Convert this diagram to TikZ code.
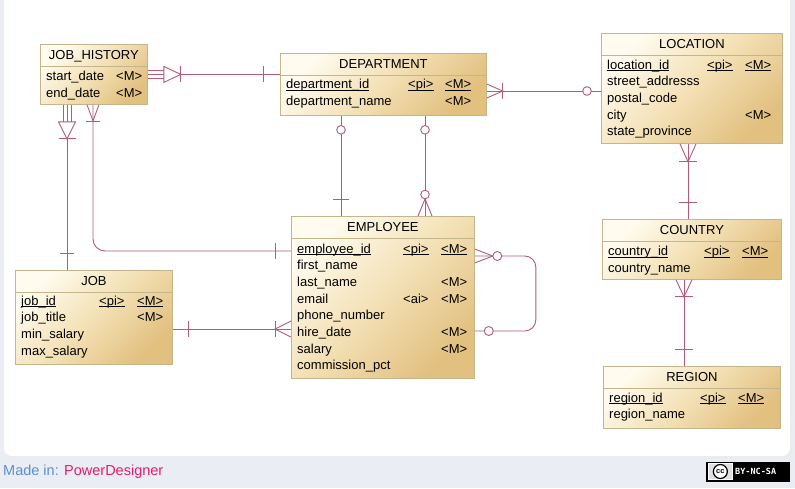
\documentclass[tikz,border=0pt]{standalone}
\usepackage{fontspec}
\setmainfont{Liberation Sans}
\newfontfamily\monof{DejaVu Sans Mono}
\usetikzlibrary{calc}
\definecolor{relc}{RGB}{178,92,122}
\definecolor{entborder}{RGB}{196,182,140}
\definecolor{bgout}{RGB}{234,237,243}
\definecolor{shUL}{RGB}{255,251,238}
\definecolor{shMID}{RGB}{243,224,180}
\definecolor{shLR}{RGB}{226,192,128}
\definecolor{madein}{RGB}{92,142,212}
\definecolor{pdpink}{RGB}{226,30,112}
\newcommand\ulx[1]{\setbox0\hbox{#1}\rlap{\rule[-2.3pt]{\wd0}{0.9pt}}\box0}
\newcommand\ent[6]{%
  \node[entity, minimum width=#4pt, minimum height=#5pt] (#1) at (#2,#3) {};
  \node[ttl] (#1-title) at ($(#1.north)+(0,15.3)$) {#6};
  \draw[sepline] ($(#1.north west)+(0,22)$) -- ($(#1.north east)+(0,22)$);
}
\newcommand\arow[8]{%
  \node[attr] (#1-n) at (#3,#2) {#4};
  \node[attr] (#1-p) at (#5,#2) {#6};
  \node[attr] (#1-m) at (#7,#2) {#8};
}
\begin{document}
\begin{tikzpicture}[x=1pt,y=-1pt,
  entity/.style={draw=entborder, line width=0.8pt, anchor=north west, inner sep=0pt, rectangle,
     top color=shUL, bottom color=shLR, middle color=shMID, shading angle=45},
  ttl/.style={anchor=base, inner sep=0pt, font=\fontsize{13}{15}\selectfont},
  attr/.style={anchor=base west, inner sep=0pt, font=\fontsize{13}{15}\selectfont},
  sepline/.style={draw=entborder, line width=0.8pt},
  rl/.style={draw=relc, line width=0.9pt},
  oc/.style={draw=relc, line width=0.9pt, fill=white},
]
\useasboundingbox (0,0) rectangle (795,488);
\fill[bgout] (0,0) rectangle (795,488);
\fill[black!8, rounded corners=8pt] (5,-10) rectangle (791.5,457.5);
\fill[white, rounded corners=8pt] (4,-10) rectangle (790,456);

% ---------- entities ----------
\ent{jh}{40}{44}{107}{60}{JOB\_HISTORY}
\arow{jh1}{80.5}{46}{start\_date}{100}{}{116}{<M>}
\arow{jh2}{97.2}{46}{end\_date}{100}{}{116}{<M>}

\ent{dep}{280}{53}{206}{62}{DEPARTMENT}
\arow{dep1}{88.7}{286}{\ulx{department\_id}}{408}{\ulx{<pi>}}{445}{\ulx{<M>}}
\arow{dep2}{105.7}{286}{department\_name}{408}{}{445}{<M>}

\ent{loc}{601}{33}{181}{110}{LOCATION}
\arow{loc1}{69}{607}{\ulx{location\_id}}{707}{\ulx{<pi>}}{745}{\ulx{<M>}}
\arow{loc2}{85.7}{607}{street\_addresss}{707}{}{745}{}
\arow{loc3}{102.4}{607}{postal\_code}{707}{}{745}{}
\arow{loc4}{119.1}{607}{city}{707}{}{745}{<M>}
\arow{loc5}{135.8}{607}{state\_province}{707}{}{745}{}

\ent{emp}{291}{216}{183}{162}{EMPLOYEE}
\arow{emp1}{253}{297}{\ulx{employee\_id}}{403}{\ulx{<pi>}}{441}{\ulx{<M>}}
\arow{emp2}{269.7}{297}{first\_name}{403}{}{441}{}
\arow{emp3}{286.4}{297}{last\_name}{403}{}{441}{<M>}
\arow{emp4}{303.1}{297}{email}{403}{<ai>}{441}{<M>}
\arow{emp5}{319.8}{297}{phone\_number}{403}{}{441}{}
\arow{emp6}{336.5}{297}{hire\_date}{403}{}{441}{<M>}
\arow{emp7}{353.2}{297}{salary}{403}{}{441}{<M>}
\arow{emp8}{369.9}{297}{commission\_pct}{403}{}{441}{}

\ent{job}{15}{270}{157}{94}{JOB}
\arow{job1}{305}{21}{\ulx{job\_id}}{99}{\ulx{<pi>}}{137}{\ulx{<M>}}
\arow{job2}{321.7}{21}{job\_title}{99}{}{137}{<M>}
\arow{job3}{338.4}{21}{min\_salary}{99}{}{137}{}
\arow{job4}{355.1}{21}{max\_salary}{99}{}{137}{}

\ent{cty}{602}{219}{179}{60}{COUNTRY}
\arow{cty1}{255.5}{608}{\ulx{country\_id}}{704}{\ulx{<pi>}}{742}{\ulx{<M>}}
\arow{cty2}{272.2}{608}{country\_name}{704}{}{742}{}

\ent{reg}{603}{366}{177}{62}{REGION}
\arow{reg1}{402}{609}{\ulx{region\_id}}{700}{\ulx{<pi>}}{738}{\ulx{<M>}}
\arow{reg2}{418.7}{609}{region\_name}{700}{}{738}{}

% ---------- connectors ----------
% JOB_HISTORY -- DEPARTMENT
\coordinate (jhE) at (jh.east);
\draw[rl] ($(jhE)+(33,0)$) -- (jhE -| dep.west);
\draw[rl] (jhE) -- ++(16,0);
\draw[rl] ($(jhE)+(0,-4)$) -- ++(16,0);
\draw[rl] ($(jhE)+(0,4)$) -- ++(16,0);
\draw[oc] ($(jhE)+(16,-8)$) -- ($(jhE)+(33,0)$) -- ($(jhE)+(16,8)$) -- cycle;
\draw[rl] ($(jhE)+(33,-8)$) -- ++(0,16);
\draw[rl] ($(jhE -| dep.west)+(-17,-8)$) -- ++(0,16);

% JOB_HISTORY -- JOB
\coordinate (jhS) at ($(jh.south west)+(27,0)$);
\draw[rl] ($(jhS)+(0,34)$) -- (jhS |- job.north);
\draw[rl] (jhS) -- ++(0,17);
\draw[rl] ($(jhS)+(-4,0)$) -- ++(0,17);
\draw[rl] ($(jhS)+(4,0)$) -- ++(0,17);
\draw[oc] ($(jhS)+(-8.5,17)$) -- ($(jhS)+(0,34)$) -- ($(jhS)+(8.5,17)$) -- cycle;
\draw[rl] ($(jhS)+(-8.5,34)$) -- ++(17,0);
\draw[rl] ($(jhS |- job.north)+(-7,-17)$) -- ++(14,0);

% JOB_HISTORY -- EMPLOYEE
\coordinate (jhS2) at ($(jh.south west)+(53,0)$);
\coordinate (empW1) at ($(emp.north west)+(0,35)$);
\draw[rl, rounded corners=12pt] (jhS2) -- (jhS2 |- empW1) -- (empW1);
\draw[rl] ($(jhS2)+(-6,0)$) -- ($(jhS2)+(0,16)$) -- ($(jhS2)+(6,0)$);
\draw[rl] ($(jhS2)+(-7,17)$) -- ++(14,0);
\draw[rl] ($(empW1)+(-16,-8)$) -- ++(0,16);

% JOB -- EMPLOYEE
\coordinate (empW2) at ($(emp.north west)+(0,113)$);
\draw[rl] (empW2 -| job.east) -- (empW2);
\draw[rl] ($(empW2 -| job.east)+(16,-8)$) -- ++(0,16);
\draw[rl] ($(empW2)+(0,-8)$) -- ($(empW2)+(-16,0)$) -- ($(empW2)+(0,8)$);
\draw[rl] ($(empW2)+(-16,-8)$) -- ++(0,16);

% DEPARTMENT -- EMPLOYEE (left)
\coordinate (depS1) at ($(dep.south west)+(61,0)$);
\draw[rl] (depS1) -- (depS1 |- emp.north);
\draw[oc] ($(depS1)+(0,14)$) circle (4.3);
\draw[rl] ($(depS1 |- emp.north)+(-8,-17)$) -- ++(16,0);

% DEPARTMENT -- EMPLOYEE (right)
\coordinate (depS2) at ($(dep.south west)+(145,0)$);
\draw[rl] (depS2) -- (depS2 |- emp.north);
\draw[oc] ($(depS2)+(0,14)$) circle (4.3);
\draw[rl] ($(depS2 |- emp.north)+(-7,0)$) -- ($(depS2 |- emp.north)+(0,-17)$) -- ($(depS2 |- emp.north)+(7,0)$);
\draw[oc] ($(depS2 |- emp.north)+(0,-21.5)$) circle (4.3);

% DEPARTMENT -- LOCATION
\coordinate (depE) at ($(dep.north east)+(0,38)$);
\draw[rl] (depE) -- (depE -| loc.west);
\draw[rl] ($(depE)+(0,-7)$) -- ($(depE)+(16,0)$) -- ($(depE)+(0,7)$);
\draw[rl] ($(depE)+(16,-8)$) -- ++(0,16);
\draw[oc] ($(depE -| loc.west)+(-14,0)$) circle (4.3);

% LOCATION -- COUNTRY
\coordinate (locS) at ($(loc.south west)+(87,0)$);
\draw[rl] (locS) -- (locS |- cty.north);
\draw[rl] ($(locS)+(-8,0)$) -- ($(locS)+(0,18)$) -- ($(locS)+(8,0)$);
\draw[rl] ($(locS)+(-9,18)$) -- ++(18,0);
\draw[rl] ($(locS |- cty.north)+(-9,-17)$) -- ++(18,0);

% COUNTRY -- REGION
\coordinate (ctyS) at ($(cty.south west)+(82,0)$);
\draw[rl] (ctyS) -- (ctyS |- reg.north);
\draw[rl] ($(ctyS)+(-8,0)$) -- ($(ctyS)+(0,17)$) -- ($(ctyS)+(8,0)$);
\draw[rl] ($(ctyS)+(-9,17)$) -- ++(18,0);
\draw[rl] ($(ctyS |- reg.north)+(-9,-17)$) -- ++(18,0);

% EMPLOYEE self relation (manager)
\coordinate (empE1) at ($(emp.north east)+(0,40)$);
\coordinate (empE2) at ($(emp.north east)+(0,115)$);
\draw[rl, rounded corners=11pt] (empE1) -- ++(61,0) |- (empE2);
\draw[rl] ($(empE1)+(0,-7)$) -- ($(empE1)+(18,0)$) -- ($(empE1)+(0,7)$);
\draw[oc] ($(empE1)+(22.5,0)$) circle (4.5);
\draw[oc] ($(empE2)+(14,0)$) circle (4.5);

% ---------- footer ----------
\node[anchor=west, inner sep=0pt, font=\fontsize{14.5}{16}\selectfont] (madein) at (3,472)
  {\textcolor{madein}{Made in: }\textcolor{pdpink}{PowerDesigner}};
\node[fill=black, minimum width=84pt, minimum height=20pt, inner sep=0pt, anchor=west] (cc) at (706,471.5) {};
\node[fill=black!12, draw=white, line width=0.7pt, minimum width=24pt, minimum height=16pt, inner sep=0pt, anchor=west] (ccl) at (708,471.5) {};
\node[circle, draw=black, line width=1.2pt, fill=white, inner sep=0pt, minimum size=14pt, font=\fontsize{7.5}{8}\selectfont\bfseries] (cci) at (ccl.center) {cc};
\node[anchor=west, inner sep=0pt, text=white, font=\monof\bfseries\fontsize{8.5}{9}\selectfont] (cct) at (735,471.5) {BY-NC-SA};
\end{tikzpicture}
\end{document}
